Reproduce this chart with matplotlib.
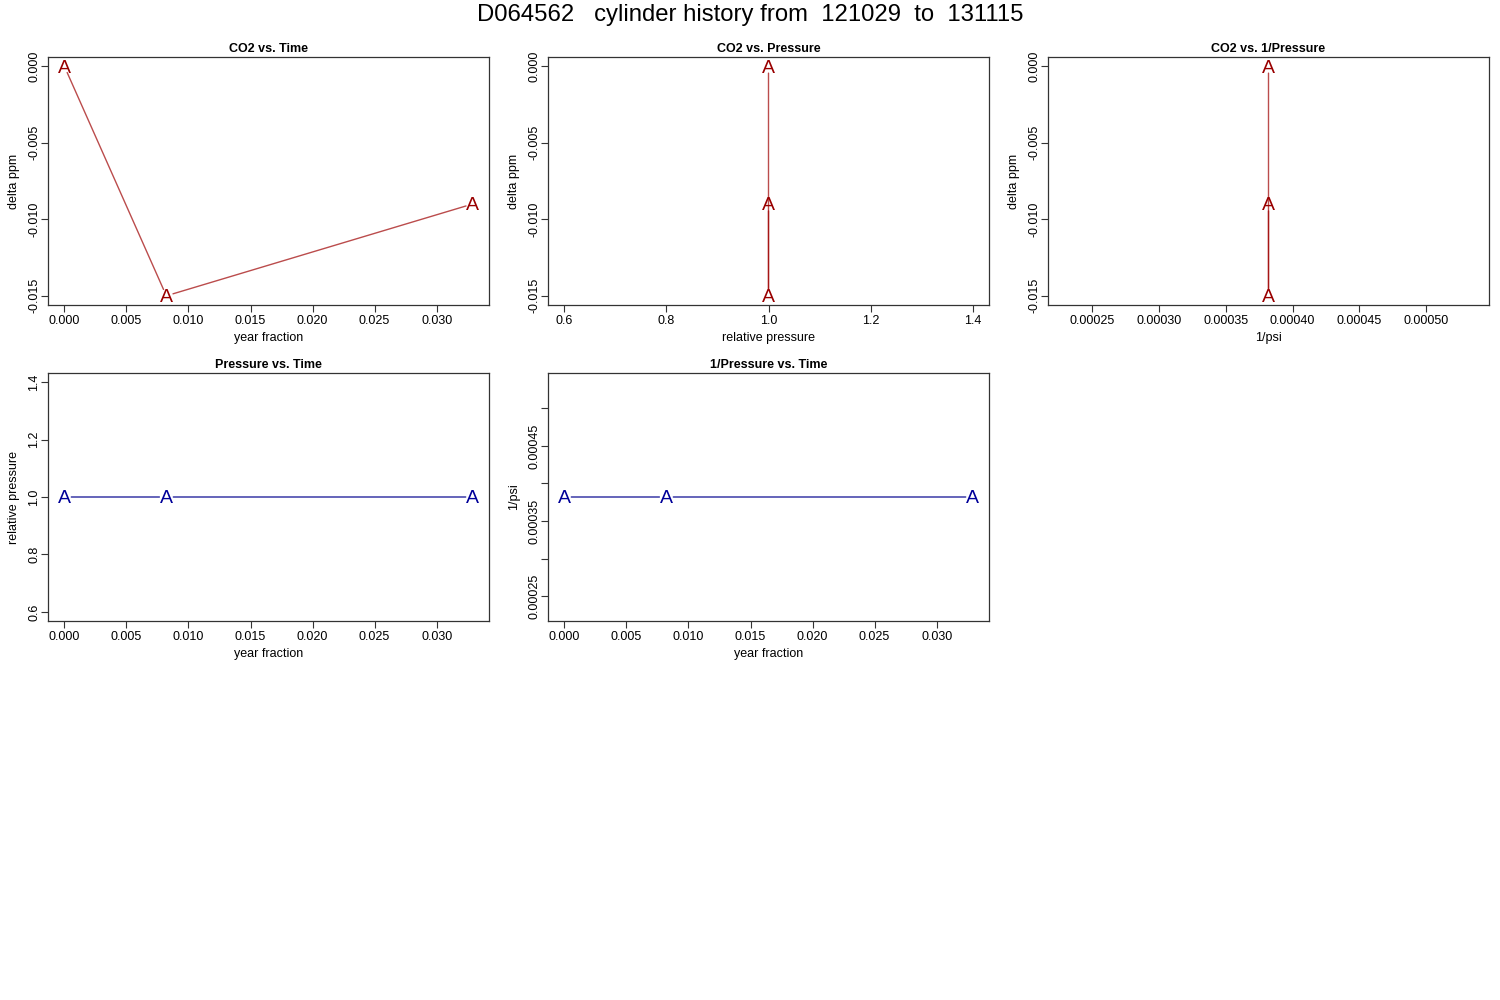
import matplotlib
matplotlib.use("Agg")
import matplotlib.pyplot as plt

plt.rcParams['font.family'] = ['Liberation Sans', 'DejaVu Sans']
plt.rcParams['axes.unicode_minus'] = False

# data
cyl_id = "D064562"
date_from = "121029"
date_to = "131115"
year_frac = [0.0, 0.00822, 0.0329]
delta_ppm = [0.0, -0.015, -0.009]
rel_pressure = [1.0, 1.0, 1.0]
inv_psi = [0.000382, 0.000382, 0.000382]

ticks_year = [0.0, 0.005, 0.010, 0.015, 0.020, 0.025, 0.030]
ticks_ppm = [-0.015, -0.010, -0.005, 0.0]
ticks_pres = [0.6, 0.8, 1.0, 1.2, 1.4]
ticks_psi = [0.00025, 0.00030, 0.00035, 0.00040, 0.00045, 0.00050]

RED_PT = '#990000'
RED_LN = (0.62, 0.0, 0.0, 0.7)
BLUE_PT = '#000099'
BLUE_LN = (0.0, 0.0, 0.55, 0.85)


def r_range(v):
    # mimic R's default axis range (4% padding, +-40% for constant data)
    lo, hi = min(v), max(v)
    if lo == hi:
        lo, hi = lo * 0.6, hi * 1.4
    d = (hi - lo) * 0.04
    return lo - d, hi + d


def fmt(vals, nd):
    return [f"{t:.{nd}f}" for t in vals]


def panel(rect, x, y, title, xlabel, ylabel, xt, xl, yt, yl, col_pt, col_ln):
    ax = fig.add_axes(rect)
    ax.set_xlim(*r_range(x))
    ax.set_ylim(*r_range(y))
    # like R type="b": segments stop short of the point symbols
    for i in range(len(x) - 1):
        ax.annotate('', xy=(x[i + 1], y[i + 1]), xytext=(x[i], y[i]),
                    arrowprops=dict(arrowstyle='-', color=col_ln, lw=1.0,
                                    shrinkA=5, shrinkB=5), zorder=1)
    for xi, yi in zip(x, y):
        ax.text(xi, yi, 'A', color=col_pt, fontsize=14, ha='center', va='center_baseline', zorder=2)
    ax.set_xticks(xt)
    ax.set_xticklabels(xl, fontsize=9)
    ax.set_yticks(yt)
    ax.set_yticklabels(yl, fontsize=9, rotation=90, va='center')
    ax.tick_params(direction='out', length=5, width=0.8, color='#333333')
    ax.tick_params(axis='x', pad=2)
    ax.tick_params(axis='y', pad=0.5)
    for s in ax.spines.values():
        s.set_linewidth(0.9)
        s.set_color('#333333')
    ax.set_title(title, fontsize=9, fontweight='bold', pad=3.5)
    ax.set_xlabel(xlabel, fontsize=9, labelpad=4)
    ax.set_ylabel(ylabel, fontsize=9, labelpad=6)
    return ax


fig = plt.figure(figsize=(15, 10), dpi=100)
W, H = 1500.0, 1000.0


def rect(l, t, r, b):
    return [l / W, 1 - b / H, (r - l) / W, (b - t) / H]


panel(rect(48, 57, 489, 305), year_frac, delta_ppm, 'CO2 vs. Time', 'year fraction', 'delta ppm',
      ticks_year, fmt(ticks_year, 3), ticks_ppm, fmt(ticks_ppm, 3), RED_PT, RED_LN)
panel(rect(548, 57, 989, 305), rel_pressure, delta_ppm, 'CO2 vs. Pressure', 'relative pressure', 'delta ppm',
      ticks_pres, fmt(ticks_pres, 1), ticks_ppm, fmt(ticks_ppm, 3), RED_PT, RED_LN)
panel(rect(1048, 57, 1489, 305), inv_psi, delta_ppm, 'CO2 vs. 1/Pressure', '1/psi', 'delta ppm',
      ticks_psi, fmt(ticks_psi, 5), ticks_ppm, fmt(ticks_ppm, 3), RED_PT, RED_LN)
panel(rect(48, 373, 489, 621), year_frac, rel_pressure, 'Pressure vs. Time', 'year fraction', 'relative pressure',
      ticks_year, fmt(ticks_year, 3), ticks_pres, fmt(ticks_pres, 1), BLUE_PT, BLUE_LN)
psi_lab = [f"{t:.5f}" if i % 2 == 0 else '' for i, t in enumerate(ticks_psi)]
panel(rect(548, 373, 989, 621), year_frac, inv_psi, '1/Pressure vs. Time', 'year fraction', '1/psi',
      ticks_year, fmt(ticks_year, 3), ticks_psi, psi_lab, BLUE_PT, BLUE_LN)

fig.text(0.5, 1 - 15 / H, f"{cyl_id}   cylinder history from  {date_from}  to  {date_to}",
         ha='center', va='center', fontsize=17.2)

fig.savefig('out.png', dpi=100)
